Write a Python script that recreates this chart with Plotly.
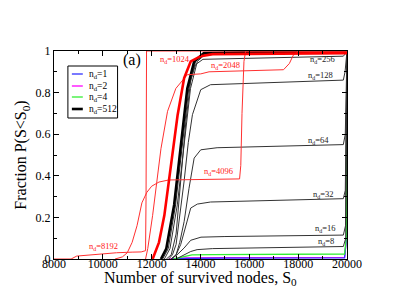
import plotly.graph_objects as go

# ---- data ----
x_nd1 = [12800, 13500, 15000, 19900, 19980, 20000]
y_nd1 = [0.0, 0.003, 0.004, 0.005, 0.1, 1.0]

x_nd2 = [12700, 13400, 15000, 19900, 19980, 20000]
y_nd2 = [0.0, 0.005, 0.007, 0.008, 0.1, 1.0]

x_nd4 = [12900, 13125, 13400, 13650, 14500, 19900, 19970, 20000]
y_nd4 = [0.0, 0.005, 0.012, 0.02, 0.021, 0.024, 0.1, 1.0]

x_nd8 = [13000, 13330, 13600, 13860, 14500, 19850, 19950, 20000]
y_nd8 = [0.0, 0.02, 0.036, 0.045, 0.05, 0.06, 0.1, 1.0]

x_nd16 = [12800, 13040, 13330, 13600, 14020, 15000, 19850, 19940, 20000]
y_nd16 = [0.0, 0.02, 0.053, 0.09, 0.105, 0.108, 0.115, 0.16, 1.0]

x_nd32 = [12800, 13000, 13190, 13400, 13600, 13870, 14410, 19850, 19930, 20000]
y_nd32 = [0.0, 0.02, 0.07, 0.165, 0.245, 0.264, 0.274, 0.29, 0.33, 1.0]

x_nd64 = [12800, 13000, 13150, 13330, 13530, 13740, 14010, 14680, 19850, 19930, 20000]
y_nd64 = [0.0, 0.02, 0.08, 0.18, 0.34, 0.485, 0.525, 0.535, 0.55, 0.6, 1.0]

x_nd128 = [12700, 12850, 13000, 13150, 13330, 13500, 13670, 14010, 14410, 19850, 19920, 20000]
y_nd128 = [0.0, 0.02, 0.07, 0.2, 0.375, 0.56, 0.694, 0.814, 0.838, 0.86, 0.9, 1.0]

x_nd256 = [12600, 12800, 13000, 13200, 13400, 13600, 13800, 14100, 19850, 19920, 20000]
y_nd256 = [0.0, 0.02, 0.12, 0.38, 0.66, 0.86, 0.935, 0.96, 0.975, 0.985, 1.0]

x_ext1 = [12450, 12680, 12980, 13250, 13520, 13800, 14200, 20000]
y_ext1 = [0.0, 0.05, 0.26, 0.53, 0.82, 0.95, 0.99, 0.995]

x_ext2 = [12520, 12750, 13050, 13320, 13590, 13870, 14250, 20000]
y_ext2 = [0.0, 0.05, 0.26, 0.53, 0.82, 0.95, 0.99, 0.997]

x_nd512 = [12380, 12600, 12920, 13190, 13460, 13740, 14140, 20000]
y_nd512 = [0.0, 0.05, 0.26, 0.53, 0.82, 0.95, 0.99, 1.0]

x_nd1024 = [12040, 12300, 12520, 12790, 13060, 13330, 13600, 14010, 14500, 20000]
y_nd1024 = [0.0, 0.08, 0.21, 0.45, 0.69, 0.87, 0.95, 0.975, 0.985, 0.99]

x_nd2048 = [11750, 11840, 12040, 12380, 12650, 12990, 13460, 14010, 14350, 17400, 17640, 17800, 18010, 20000]
y_nd2048 = [0.0, 0.05, 0.21, 0.53, 0.71, 0.82, 0.886, 0.89, 0.9, 0.91, 0.94, 0.98, 1.0, 1.0]

x_nd4096 = [10500, 10800, 11000, 11200, 11400, 11600, 11800, 12000, 12300, 12700, 15600, 15650, 15700, 15780, 15850, 20000]
y_nd4096 = [0.0, 0.01, 0.03, 0.08, 0.16, 0.27, 0.32, 0.35, 0.37, 0.38, 0.385, 0.45, 0.7, 0.95, 1.0, 1.0]

x_nd8192 = [8000, 8700, 8930, 9500, 10560, 11200, 11570, 11750, 11770, 11790, 20000]
y_nd8192 = [0.0, 0.0, 0.014, 0.02, 0.03, 0.033, 0.034, 0.04, 0.3, 1.0, 1.0]

x_ticks = [8000, 10000, 12000, 14000, 16000, 18000, 20000]
y_ticks = [0, 0.2, 0.4, 0.6, 0.8, 1]

SERIF = "Liberation Serif"

fig = go.Figure()

def add(x, y, color, width, name):
    fig.add_trace(go.Scatter(x=x, y=y, mode="lines", name=name,
                             line=dict(color=color, width=width),
                             showlegend=False, hoverinfo="skip"))

add(x_nd2, y_nd2, "#ff00ff", 1.3, "n_d=2")
add(x_nd1, y_nd1, "#3030ff", 1.3, "n_d=1")
add(x_nd4, y_nd4, "#33ee33", 1.3, "n_d=4")
add(x_nd8, y_nd8, "#333333", 1, "n_d=8")
add(x_nd16, y_nd16, "#333333", 1, "n_d=16")
add(x_nd32, y_nd32, "#333333", 1, "n_d=32")
add(x_nd64, y_nd64, "#333333", 1, "n_d=64")
add(x_nd128, y_nd128, "#333333", 1, "n_d=128")
add(x_nd256, y_nd256, "#333333", 1, "n_d=256")
add(x_ext1, y_ext1, "#333333", 1, "")
add(x_ext2, y_ext2, "#333333", 1, "")
add(x_nd512, y_nd512, "#000000", 2.6, "n_d=512")
add(x_nd8192, y_nd8192, "#ff3030", 1, "n_d=8192")
add(x_nd4096, y_nd4096, "#ff3030", 1, "n_d=4096")
add(x_nd2048, y_nd2048, "#ff3030", 1, "n_d=2048")
add(x_nd1024, y_nd1024, "#ff0000", 2.6, "n_d=1024")

# curve labels
labels = [
    (12250, 0.957, "1024", "#ff2020"),
    (14346, 0.928, "2048", "#ff2020"),
    (14061, 0.423, "4096", "#ff2020"),
    (9342, 0.0625, "8192", "#ff2020"),
    (18414, 0.957, "256", "#222222"),
    (18333, 0.88, "128", "#222222"),
    (18333, 0.572, "64", "#222222"),
    (18536, 0.3125, "32", "#222222"),
    (18617, 0.149, "16", "#222222"),
    (18739, 0.0865, "8", "#222222"),
]
for lx, ly, t, c in labels:
    fig.add_annotation(x=lx, y=ly, xref="x", yref="y", text="n<sub>d</sub>=" + t,
                       showarrow=False, xanchor="left", yanchor="middle",
                       font=dict(family=SERIF, size=8.5, color=c))

fig.add_annotation(x=(123 - 44) / 295, y=(251 - 52) / 208, xref="paper", yref="paper",
                   text="(a)", showarrow=False, xanchor="center", yanchor="middle",
                   font=dict(family=SERIF, size=16, color="black"))

# manual legend (box, samples, text)
fig.add_shape(type="rect", xref="paper", yref="paper",
              x0=(58 - 44) / 295, x1=(108 - 44) / 295,
              y0=(251 - 110) / 208, y1=(251 - 58) / 208,
              line=dict(color="black", width=1), fillcolor="white", layer="above")
leg = [("1", "#3030ff", 1.3, 66), ("2", "#ff00ff", 1.3, 78), ("4", "#33ee33", 1.3, 89), ("512", "#000000", 2.6, 101)]
for t, c, w, py in leg:
    yp = (251 - py) / 208
    fig.add_shape(type="line", xref="paper", yref="paper",
                  x0=(62 - 44) / 295, x1=(73 - 44) / 295, y0=yp, y1=yp,
                  line=dict(color=c, width=w), layer="above")
    fig.add_annotation(x=(77 - 44) / 295, y=yp, xref="paper", yref="paper",
                       text="n<sub>d</sub>=" + t, showarrow=False, xanchor="left", yanchor="middle",
                       font=dict(family=SERIF, size=9.5, color="black"))

# x-axis title as annotation for exact placement
fig.add_annotation(x=0.5, y=(251 - 260) / 208, xref="paper", yref="paper",
                   text="Number of survived nodes, S<sub>0</sub>", showarrow=False,
                   xanchor="center", yanchor="top", borderpad=0,
                   font=dict(family=SERIF, size=16, color="black"))

axis_common = dict(showline=True, linecolor="black", linewidth=1, mirror="ticks",
                   ticks="inside", ticklen=5, tickwidth=1, tickcolor="black",
                   showgrid=False, zeroline=False,
                   tickfont=dict(family=SERIF, size=12, color="black"))

fig.update_xaxes(range=[8000, 20000], tickvals=x_ticks, ticktext=[str(v) for v in x_ticks],
                 ticklabelstandoff=-6,
                 minor=dict(dtick=1000, ticks="inside", ticklen=3, tickcolor="black", showgrid=False),
                 **axis_common)
fig.update_yaxes(range=[0, 1], tickvals=y_ticks, ticktext=["0", "0.2", "0.4", "0.6", "0.8", "1"],
                 minor=dict(dtick=0.1, ticks="inside", ticklen=3, tickcolor="black", showgrid=False),
                 title=dict(text="Fraction P(S&lt;S<sub>0</sub>)", standoff=4,
                            font=dict(family=SERIF, size=16, color="black")),
                 **axis_common)

fig.update_layout(width=407, height=288, margin=dict(l=44, r=68, t=43, b=37),
                  plot_bgcolor="white", paper_bgcolor="white", showlegend=False)

fig.write_html("out.html")
